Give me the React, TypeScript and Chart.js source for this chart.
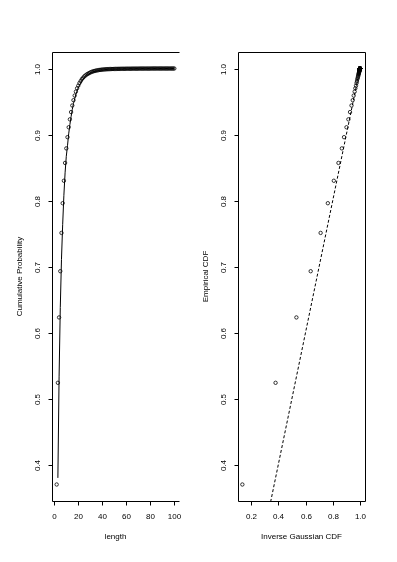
import React, { useEffect, useRef } from "react";
import { Chart, registerables } from "chart.js";

Chart.register(...registerables);

const lengths = [
  2, 3, 4, 5, 6, 7, 8, 9, 10, 11, 12, 13, 14, 15, 16, 17, 18, 19, 20,
  21, 22, 23, 24, 25, 26, 27, 28, 29, 30, 31, 32, 33, 34, 35, 36, 37, 38, 39, 40,
  41, 42, 43, 44, 45, 46, 47, 48, 49, 50, 51, 52, 53, 54, 55, 56, 57, 58, 59, 60,
  61, 62, 63, 64, 65, 66, 67, 68, 69, 70, 71, 72, 73, 74, 75, 76, 77, 78, 79, 80,
  81, 82, 83, 84, 85, 86, 87, 88, 89, 90, 91, 92, 93, 94, 95, 96, 97, 98, 99, 100,
];

const empiricalCdf = [
  0.370, 0.524, 0.623, 0.693, 0.751, 0.796, 0.830, 0.857, 0.879, 0.896,
  0.911, 0.923, 0.934, 0.944, 0.952, 0.959, 0.965, 0.970, 0.974, 0.978,
  0.981, 0.984, 0.986, 0.988, 0.9895, 0.991, 0.992, 0.993, 0.994, 0.9948,
  0.9955, 0.996, 0.9965, 0.9969, 0.9973, 0.9976, 0.9979, 0.9981, 0.9983, 0.9985,
  0.9987, 0.9988, 0.9989, 0.999, 0.9991, 0.9992, 0.9992, 0.9993, 0.9993, 0.9994,
  0.9994, 0.9995, 0.9995, 0.9995, 0.9996, 0.9996, 0.9996, 0.9996, 0.9997, 0.9997,
  0.9997, 0.9997, 0.9997, 0.9998, 0.9998, 0.9998, 0.9998, 0.9998, 0.9998,
  0.9999, 0.9999, 0.9999, 0.9999, 0.9999, 0.9999, 0.9999, 0.9999, 0.9999, 0.9999,
  1.0, 1.0, 1.0, 1.0, 1.0, 1.0, 1.0, 1.0, 1.0, 1.0,
  1.0, 1.0, 1.0, 1.0, 1.0, 1.0, 1.0, 1.0, 1.0, 1.0,
];

const inverseGaussianCdf = [
  0.136, 0.380, 0.533, 0.638, 0.711, 0.764, 0.808, 0.842, 0.867, 0.883,
  0.901, 0.915, 0.927, 0.938, 0.947, 0.954, 0.961, 0.966, 0.971, 0.975,
  0.978, 0.981, 0.984, 0.986, 0.988, 0.9895, 0.991, 0.992, 0.993, 0.9938,
  0.9946, 0.9953, 0.9959, 0.9964, 0.9968, 0.9972, 0.9975, 0.9978, 0.998, 0.9982,
  0.9984, 0.9985, 0.9987, 0.9988, 0.9989, 0.999, 0.9991, 0.9991, 0.9992, 0.9993,
  0.9993, 0.9994, 0.9994, 0.9995, 0.9995, 0.9995, 0.9996, 0.9996, 0.9996, 0.9997,
  0.9997, 0.9997, 0.9997, 0.9997, 0.9998, 0.9998, 0.9998, 0.9998, 0.9998,
  0.9999, 0.9999, 0.9999, 0.9999, 0.9999, 0.9999, 0.9999, 0.9999, 0.9999, 0.9999,
  0.9999, 0.9999, 0.9999, 0.9999, 0.9999, 0.9999, 0.9999, 0.9999, 0.9999, 0.9999,
  1.0, 1.0, 1.0, 1.0, 1.0, 1.0, 1.0, 1.0, 1.0, 1.0,
];

const leftXTicks = [0, 20, 40, 60, 80, 100];
const leftXTickLabels = ["0", "20", "40", "60", "80", "100"];
const rightXTicks = [0.2, 0.4, 0.6, 0.8, 1.0];
const rightXTickLabels = ["0.2", "0.4", "0.6", "0.8", "1.0"];
const yTicks = [0.4, 0.5, 0.6, 0.7, 0.8, 0.9, 1.0];
const yTickLabels = ["0.4", "0.5", "0.6", "0.7", "0.8", "0.9", "1.0"];
const referenceLine = [0.136, 1.0];

const FONT = '8px "Liberation Sans", Arial, Helvetica, sans-serif';

type AxisCfg = {
  fullBox: boolean;
  xTicks: number[];
  xLabels: string[];
  yTicks: number[];
  yLabels: string[];
  xTitle: string;
  yTitle: string;
};

function makeAxesPlugin(cfg: AxisCfg) {
  return {
    id: "rAxes",
    afterDraw(chart: any) {
      const { ctx, chartArea: a, scales } = chart;
      const xs = scales.x;
      const ys = scales.y;
      const L = Math.round(a.left) + 0.5;
      const R = Math.round(a.right) + 0.5;
      const T = Math.round(a.top) + 0.5;
      const B = Math.round(a.bottom) + 0.5;
      ctx.save();
      ctx.strokeStyle = "#000";
      ctx.lineWidth = 1;
      ctx.beginPath();
      if (cfg.fullBox) {
        ctx.rect(L, T, R - L, B - T);
      } else {
        ctx.moveTo(R, T);
        ctx.lineTo(L, T);
        ctx.lineTo(L, B);
        ctx.lineTo(R, B);
      }
      ctx.stroke();

      ctx.fillStyle = "#000";
      ctx.font = FONT;
      ctx.textAlign = "center";
      ctx.textBaseline = "middle";
      cfg.xTicks.forEach((v, i) => {
        const px = Math.round(xs.getPixelForValue(v)) + 0.5;
        ctx.beginPath();
        ctx.moveTo(px, B);
        ctx.lineTo(px, B + 4);
        ctx.stroke();
        ctx.fillText(cfg.xLabels[i], px, B + 15);
      });
      ctx.fillText(cfg.xTitle, (a.left + a.right) / 2, B + 35);
      cfg.yTicks.forEach((v, i) => {
        const py = Math.round(ys.getPixelForValue(v)) + 0.5;
        ctx.beginPath();
        ctx.moveTo(L, py);
        ctx.lineTo(L - 4, py);
        ctx.stroke();
        ctx.save();
        ctx.translate(L - 14.5, py);
        ctx.rotate(-Math.PI / 2);
        ctx.fillText(cfg.yLabels[i], 0, 0);
        ctx.restore();
      });
      ctx.save();
      ctx.translate(L - 33, (a.top + a.bottom) / 2);
      ctx.rotate(-Math.PI / 2);
      ctx.fillText(cfg.yTitle, 0, 0);
      ctx.restore();
      ctx.restore();
    },
  };
}

const pointStyleOpts = {
  showLine: false,
  pointRadius: 1.7,
  pointHoverRadius: 1.7,
  pointBorderWidth: 0.8,
  pointBorderColor: "#000",
  pointBackgroundColor: "rgba(0,0,0,0)",
  borderColor: "#000",
};

export default function App() {
  const leftRef = useRef<HTMLCanvasElement | null>(null);
  const rightRef = useRef<HTMLCanvasElement | null>(null);

  useEffect(() => {
    const yMin = 0.345;
    const yMax = 1.025;

    const left = new Chart(leftRef.current as HTMLCanvasElement, {
      type: "scatter",
      data: {
        datasets: [
          {
            label: "empirical",
            data: lengths.map((x, i) => ({ x, y: empiricalCdf[i] })),
            ...pointStyleOpts,
          } as any,
          {
            label: "fitted",
            data: lengths.slice(1).map((x, i) => ({ x, y: inverseGaussianCdf[i + 1] })),
            showLine: true,
            borderColor: "#000",
            borderWidth: 1,
            pointRadius: 0,
            pointHoverRadius: 0,
            tension: 0,
          } as any,
        ],
      },
      options: {
        animation: false,
        responsive: false,
        events: [],
        layout: { padding: { left: 52, top: 52, right: 11, bottom: 61 } },
        plugins: { legend: { display: false }, tooltip: { enabled: false } },
        scales: {
          x: { type: "linear", display: false, min: -1.9, max: 103.9 },
          y: { type: "linear", display: false, min: yMin, max: yMax },
        },
      },
      plugins: [
        makeAxesPlugin({
          fullBox: false,
          xTicks: leftXTicks,
          xLabels: leftXTickLabels,
          yTicks,
          yLabels: yTickLabels,
          xTitle: "length",
          yTitle: "Cumulative Probability",
        }),
      ],
    });

    const right = new Chart(rightRef.current as HTMLCanvasElement, {
      type: "scatter",
      data: {
        datasets: [
          {
            label: "qq",
            data: lengths.map((_, i) => ({ x: inverseGaussianCdf[i], y: empiricalCdf[i] })),
            ...pointStyleOpts,
          } as any,
          {
            label: "identity",
            data: referenceLine.map((v) => ({ x: v, y: v })),
            showLine: true,
            borderColor: "#000",
            borderWidth: 1,
            borderDash: [3, 2],
            pointRadius: 0,
            pointHoverRadius: 0,
          } as any,
        ],
      },
      options: {
        animation: false,
        responsive: false,
        events: [],
        layout: { padding: { left: 48, top: 52, right: 32, bottom: 61 } },
        plugins: { legend: { display: false }, tooltip: { enabled: false } },
        scales: {
          x: { type: "linear", display: false, min: 0.104, max: 1.037 },
          y: { type: "linear", display: false, min: yMin, max: yMax },
        },
      },
      plugins: [
        makeAxesPlugin({
          fullBox: true,
          xTicks: rightXTicks,
          xLabels: rightXTickLabels,
          yTicks,
          yLabels: yTickLabels,
          xTitle: "Inverse Gaussian CDF",
          yTitle: "Empirical CDF",
        }),
      ],
    });

    return () => {
      left.destroy();
      right.destroy();
    };
  }, []);

  return (
    <div
      style={{
        position: "fixed",
        left: 0,
        top: 0,
        width: 397,
        height: 562,
        background: "#fff",
        overflow: "hidden",
      }}
    >
      <canvas
        ref={leftRef}
        width={190}
        height={562}
        style={{ position: "absolute", left: 0, top: 0, width: 190, height: 562 }}
      />
      <canvas
        ref={rightRef}
        width={207}
        height={562}
        style={{ position: "absolute", left: 190, top: 0, width: 207, height: 562 }}
      />
    </div>
  );
}
